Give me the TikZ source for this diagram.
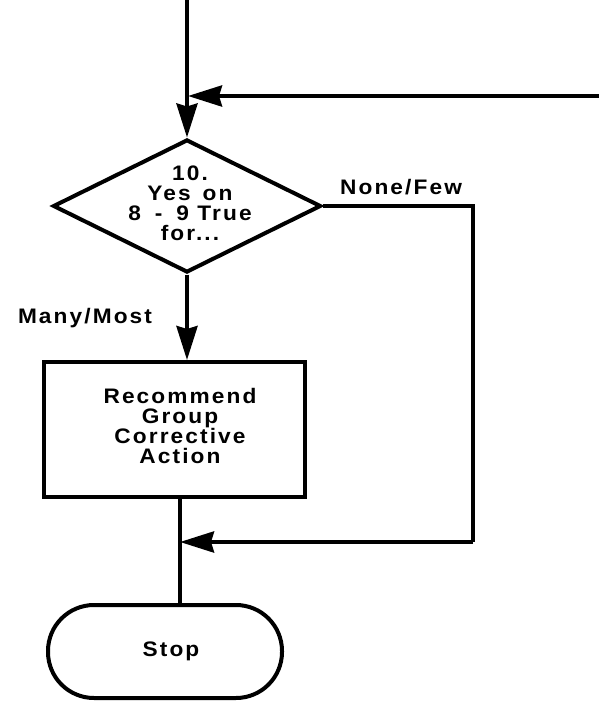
\documentclass[tikz,border=0pt]{standalone}
\usepackage{fontspec}
\setmainfont{Liberation Sans}
\newfontfamily\lab[LetterSpace=10,FakeStretch=1.08]{Liberation Sans}
\usetikzlibrary{shapes.geometric,arrows.meta}
\begin{document}
\begin{tikzpicture}[x=1pt,y=-1pt,
  ln/.style={line width=4pt},
  arr/.style={ln,-{Stealth[length=34pt,width=21pt,inset=3pt]}},
  txt/.style={font=\fontsize{21}{20}\lab\bfseries\selectfont,align=center,inner sep=0pt},
  dia/.style={draw,line width=4pt,shape=diamond,minimum width=268pt,minimum height=133pt,inner sep=0pt},
  boxst/.style={draw,line width=4pt,minimum width=261pt,minimum height=135pt,inner sep=0pt},
  term/.style={draw,line width=4pt,rounded corners=46pt,minimum width=234pt,minimum height=93pt,inner sep=0pt}]
\useasboundingbox (0,0) rectangle (599,702);
\fill[white] (0,0) rectangle (599,702);
\node[dia] (d) at (187,206) {};
\node[txt] (dt) at (190,203) {10.\\Yes\hspace{12pt}on\\8\hspace{14pt}-\hspace{14pt}9 True\\for...};
\node[boxst] (b) at (174.5,429.5) {};
\node[txt] (bt) at (180,426) {Recommend\\Group\\Corrective\\Action};
\node[term] (s) at (165,651.5) {};
\node[txt] (st) at (171,651) {Stop};
\node[txt] (nf) at (401,187) {None/Few};
\node[txt] (mm) at (85,318) {Many/Most};
\coordinate (top) at (187,0);
\coordinate (rt) at (599,96);
\coordinate (j1) at (188,96);
\coordinate (c1) at (473,542);
\coordinate (j2) at (180,542);
\draw[arr] (top) -- (d.north);
\draw[arr] (rt) -- (j1);
\draw[arr] (d.south) -- (d.south |- b.north);
\draw[ln] (d.east) -| (c1);
\draw[arr] (c1) -- (j2);
\draw[ln] (b.south -| j2) -- (j2 |- s.north);
\end{tikzpicture}
\end{document}
